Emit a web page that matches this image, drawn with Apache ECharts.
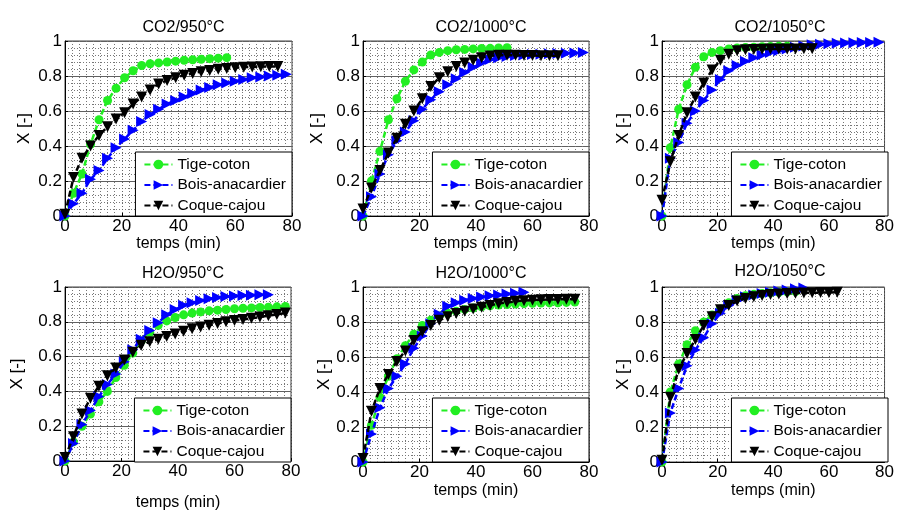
<!DOCTYPE html>
<html><head><meta charset="utf-8">
<script src="https://cdn.jsdelivr.net/npm/echarts@6/dist/echarts.min.js"></script>
<style>html,body{margin:0;padding:0;background:#fff}#c{width:897px;height:512px}</style>
</head><body><div id="c"></div>
<script>
// time points (min)
const T = [0,3,6,9,12,15,18,21,24,27,30,33,36,39,42,45,48,51,54,57,60,63,66,69,72,75,78];
const seriesNames = ['Tige-coton','Bois-anacardier','Coque-cajou'];
const xTicks = [0,20,40,60,80];
const yTicks = [0,0.2,0.4,0.6,0.8,1];
const titles = ['CO2/950°C','CO2/1000°C','CO2/1050°C','H2O/950°C','H2O/1000°C','H2O/1050°C'];

// CO2 / 950
const co2_950_tige  = [0,0.13,0.24,0.41,0.55,0.66,0.73,0.79,0.83,0.86,0.87,0.875,0.88,0.885,0.89,0.893,0.896,0.899,0.902,0.905];
const co2_950_bois  = [0,0.07,0.13,0.21,0.26,0.33,0.39,0.44,0.49,0.54,0.58,0.61,0.64,0.66,0.68,0.70,0.72,0.735,0.75,0.76,0.77,0.78,0.79,0.795,0.80,0.805,0.81];
const co2_950_coque = [0.01,0.22,0.33,0.40,0.46,0.51,0.555,0.59,0.64,0.68,0.72,0.755,0.775,0.79,0.805,0.815,0.825,0.832,0.838,0.843,0.847,0.85,0.852,0.853,0.855,0.855];
// CO2 / 1000
const co2_1000_tige  = [0,0.2,0.37,0.55,0.67,0.77,0.835,0.88,0.92,0.935,0.945,0.95,0.952,0.955,0.957,0.958,0.96,0.962];
const co2_1000_bois  = [0,0.11,0.24,0.35,0.43,0.48,0.545,0.61,0.665,0.71,0.75,0.785,0.82,0.85,0.875,0.895,0.905,0.912,0.917,0.92,0.923,0.925,0.927,0.929,0.93,0.932,0.934];
const co2_1000_coque = [0.04,0.16,0.26,0.36,0.445,0.525,0.6,0.67,0.74,0.79,0.825,0.855,0.875,0.89,0.905,0.915,0.918,0.918,0.918,0.917,0.917,0.916,0.916,0.916];
// CO2 / 1050
const co2_1050_tige  = [0,0.39,0.61,0.75,0.85,0.91,0.935,0.945,0.955,0.96,0.963,0.965,0.967,0.968,0.97,0.97];
const co2_1050_bois  = [0,0.33,0.42,0.53,0.60,0.66,0.72,0.78,0.83,0.86,0.885,0.905,0.92,0.935,0.945,0.955,0.965,0.972,0.978,0.982,0.985,0.987,0.989,0.99,0.991,0.992,0.993];
const co2_1050_coque = [0.09,0.31,0.46,0.59,0.68,0.76,0.835,0.89,0.925,0.945,0.95,0.952,0.953,0.954,0.955,0.955,0.955,0.956,0.956];
// H2O / 950
const h2o_950_tige  = [0,0.11,0.2,0.27,0.34,0.40,0.48,0.55,0.62,0.69,0.74,0.78,0.805,0.825,0.84,0.85,0.857,0.863,0.867,0.871,0.875,0.878,0.88,0.882,0.884,0.886,0.888];
const h2o_950_bois  = [0,0.1,0.21,0.29,0.37,0.44,0.5,0.57,0.64,0.70,0.75,0.795,0.84,0.87,0.895,0.91,0.922,0.932,0.94,0.945,0.948,0.951,0.953,0.955,0.956];
const h2o_950_coque = [0.02,0.14,0.27,0.36,0.43,0.49,0.535,0.58,0.625,0.665,0.685,0.70,0.715,0.73,0.745,0.76,0.77,0.78,0.79,0.80,0.807,0.813,0.82,0.827,0.835,0.842,0.85];
// H2O / 1000
const h2o_1000_tige  = [0,0.21,0.37,0.49,0.59,0.665,0.73,0.78,0.81,0.835,0.85,0.862,0.872,0.88,0.887,0.893,0.897,0.9,0.903,0.905,0.907,0.908,0.909,0.91,0.912,0.914];
const h2o_1000_bois  = [0,0.16,0.31,0.42,0.49,0.56,0.65,0.72,0.79,0.845,0.89,0.91,0.925,0.935,0.943,0.95,0.955,0.96,0.965,0.97];
const h2o_1000_coque = [0.02,0.29,0.42,0.50,0.575,0.635,0.695,0.745,0.78,0.81,0.83,0.848,0.862,0.874,0.885,0.895,0.905,0.912,0.918,0.922,0.925,0.927,0.928,0.929,0.93,0.93];
// H2O / 1050
const h2o_1050_tige  = [0,0.4,0.56,0.67,0.75,0.80,0.84,0.875,0.91,0.935,0.95,0.958,0.963,0.967,0.97,0.972,0.974];
const h2o_1050_bois  = [0,0.28,0.42,0.55,0.64,0.71,0.79,0.85,0.895,0.925,0.945,0.955,0.963,0.97,0.977,0.983,0.99,0.995];
const h2o_1050_coque = [0.01,0.37,0.53,0.62,0.70,0.78,0.83,0.87,0.895,0.92,0.935,0.945,0.952,0.957,0.96,0.963,0.965,0.966,0.967,0.968,0.969,0.97];

const panelData = [
  [co2_950_tige, co2_950_bois, co2_950_coque],
  [co2_1000_tige, co2_1000_bois, co2_1000_coque],
  [co2_1050_tige, co2_1050_bois, co2_1050_coque],
  [h2o_950_tige, h2o_950_bois, h2o_950_coque],
  [h2o_1000_tige, h2o_1000_bois, h2o_1000_coque],
  [h2o_1050_tige, h2o_1050_bois, h2o_1050_coque]
];

// layout
const W = 897, H = 512;
const layout = [
  {l:65, t:41, w:227, h:175, titleY:15, xGap:20, yGap:32},
  {l:363,t:41, w:226, h:175, titleY:15, xGap:20, yGap:37},
  {l:662,t:41, w:226, h:175, titleY:15, xGap:20, yGap:29},
  {l:65, t:287,w:226, h:175, titleY:261, xGap:34, yGap:39},
  {l:363,t:287,w:226, h:175, titleY:261, xGap:21, yGap:30},
  {l:662,t:287,w:226, h:175, titleY:259, xGap:21, yGap:29}
];
const styles = [
  {color:'#22ee22', symbol:'circle', size:9, rot:0},
  {color:'#0000ff', symbol:'triangle', size:11, rot:-90},
  {color:'#000000', symbol:'triangle', size:11, rot:180}
];
const FONT = "'Liberation Sans', Arial, sans-serif";

const option = {
  animation:false,
  backgroundColor:'#fff',
  title:[], grid:[], xAxis:[], yAxis:[], series:[], legend:[]
};
layout.forEach((L,i)=>{
  option.title.push({text:titles[i], left:L.l+L.w/2, top:L.titleY, textAlign:'center',
    textStyle:{fontFamily:FONT,fontSize:16,fontWeight:'normal',color:'#000'}});
  option.grid.push({left:L.l, top:L.t, width:L.w, height:L.h, show:true,
    backgroundColor:'#fff', borderColor:'#444', borderWidth:1});
  option.xAxis.push({type:'value', gridIndex:i, min:xTicks[0], max:xTicks[xTicks.length-1], interval:20,
    name:'temps (min)', nameLocation:'middle', nameGap:L.xGap,
    nameTextStyle:{fontFamily:FONT,fontSize:16,color:'#000'},
    axisLine:{onZero:false,lineStyle:{color:'#000',width:1}},
    axisTick:{inside:true,length:3,lineStyle:{color:'#000'}},
    axisLabel:{fontFamily:FONT,fontSize:17,color:'#000',margin:2},
    splitLine:{show:true,lineStyle:{color:'#666',type:[1,2],width:1}},
    minorTick:{show:false,splitNumber:8},
    minorSplitLine:{show:true,lineStyle:{color:'#777',type:[1,2],width:1}}
  });
  option.yAxis.push({type:'value', gridIndex:i, min:yTicks[0], max:yTicks[yTicks.length-1], interval:0.2,
    name:'X [-]', nameLocation:'middle', nameGap:L.yGap,
    nameTextStyle:{fontFamily:FONT,fontSize:17,color:'#000'},
    axisLine:{onZero:false,lineStyle:{color:'#000',width:1}},
    axisTick:{inside:true,length:3,lineStyle:{color:'#000'}},
    axisLabel:{fontFamily:FONT,fontSize:17,color:'#000',margin:3,
      formatter:v=>String(Math.round(v*10)/10)},
    splitLine:{show:true,lineStyle:{color:'#606060',type:'solid',width:1}},
    minorTick:{show:false,splitNumber:5},
    minorSplitLine:{show:true,lineStyle:{color:'#777',type:[1,2],width:1}}
  });
  option.legend.push({
    right:W-(L.l+L.w), bottom:H-(L.t+L.h), orient:'vertical',
    data:seriesNames, itemWidth:28, itemHeight:12, itemGap:3.5,
    padding:[4,6,2,8], backgroundColor:'#fff', borderColor:'#000', borderWidth:1,
    textStyle:{fontFamily:FONT,fontSize:15.5,color:'#000',lineHeight:17},
    selectedMode:false, z:10
  });
  panelData[i].forEach((vals,k)=>{
    const st = styles[k];
    option.series.push({
      name:seriesNames[k], type:'line', xAxisIndex:i, yAxisIndex:i,
      data: vals.map((v,j)=>[T[j], v]),
      symbol:st.symbol, symbolSize:st.size, symbolRotate:st.rot, showAllSymbol:true,
      clip:false,
      lineStyle:{color:st.color,width:2.5,type:[6,3]},
      itemStyle:{color:st.color},
      z:3+k
    });
  });
});
const chart = echarts.init(document.getElementById('c'), null, {renderer:'canvas'});
chart.setOption(option);
</script>
</body></html>
